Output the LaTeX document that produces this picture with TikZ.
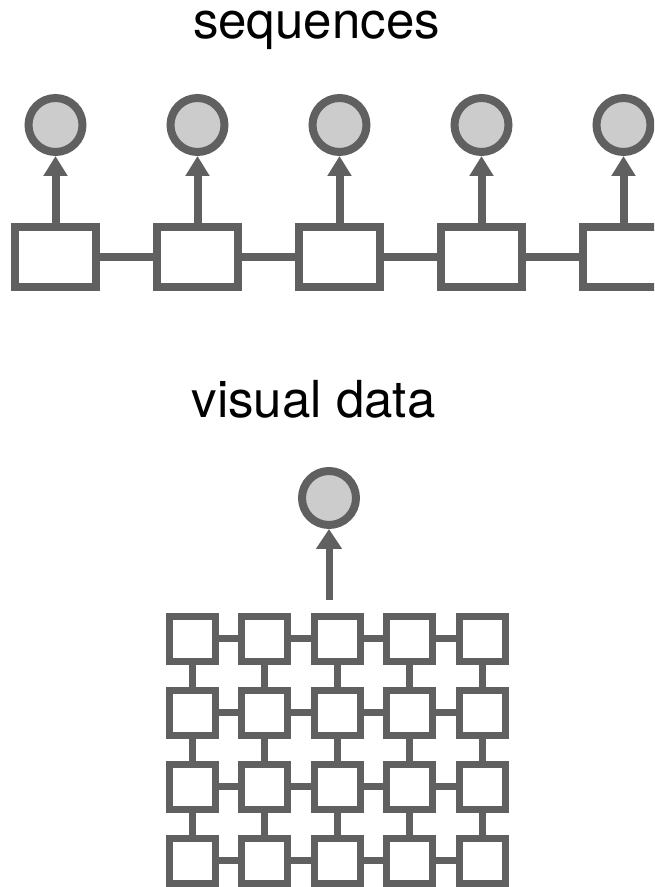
\documentclass[tikz,border=0pt]{standalone}
\usepackage{fontspec}
\setmainfont{TeX Gyre Heros}
\usetikzlibrary{arrows.meta}
\definecolor{linegray}{HTML}{606060}
\definecolor{fillgray}{HTML}{CCCCCC}
\begin{document}
\begin{tikzpicture}[x=1pt,y=1pt,
  seqbox/.style={draw=linegray,line width=8pt,fill=white,minimum width=81pt,minimum height=60pt,inner sep=0pt},
  gridbox/.style={draw=linegray,line width=7pt,fill=white,minimum width=46pt,minimum height=45pt,inner sep=0pt},
  outcirc/.style={circle,draw=linegray,line width=8pt,fill=fillgray,minimum size=54pt,inner sep=0pt},
  link/.style={draw=linegray,line width=8pt},
  glink/.style={draw=linegray,line width=7pt},
  uparrow/.style={draw=linegray,line width=8pt,-{Triangle[width=23pt,length=20pt]}},
  guparrow/.style={draw=linegray,line width=7pt,-{Triangle[width=25pt,length=20pt]}},
  title/.style={anchor=base,font=\fontsize{51}{60}\selectfont,text=black,inner sep=0pt}]
\useasboundingbox (0,0) rectangle (654,887);
\clip (0,0) rectangle (654,887);
% titles
\node[title] (t1) at (316.5,848) {sequences};
\node[title] (t2) at (313.5,469) {visual data};
% sequence row
\foreach \i in {0,...,4}{
  \node[seqbox] (s\i) at (55.5+142*\i,630) {};
  \node[outcirc] (c\i) at (55.5+142*\i,762) {};
  \draw[uparrow] (s\i.north) -- (c\i.south);
}
\foreach \i/\j in {0/1,1/2,2/3,3/4}{
  \draw[link] (s\i.east) -- (s\j.west);
}
% visual grid
\foreach \r/\yy in {0/248,1/174,2/100,3/26}{
  \foreach \c in {0,...,4}{
    \node[gridbox] (g\r\c) at (192.5+72.4*\c,\yy) {};
  }
}
\foreach \r in {0,...,3}{
  \foreach \c/\d in {0/1,1/2,2/3,3/4}{
    \draw[glink] (g\r\c.east) -- (g\r\d.west);
  }
}
\foreach \r/\s in {0/1,1/2,2/3}{
  \foreach \c in {0,...,4}{
    \draw[glink] (g\r\c.south) -- (g\s\c.north);
  }
}
\node[outcirc] (vc) at (329,389) {};
\coordinate (vstart) at (329,287);
\draw[guparrow] (vstart) -- (vc.south);
\end{tikzpicture}
\end{document}
